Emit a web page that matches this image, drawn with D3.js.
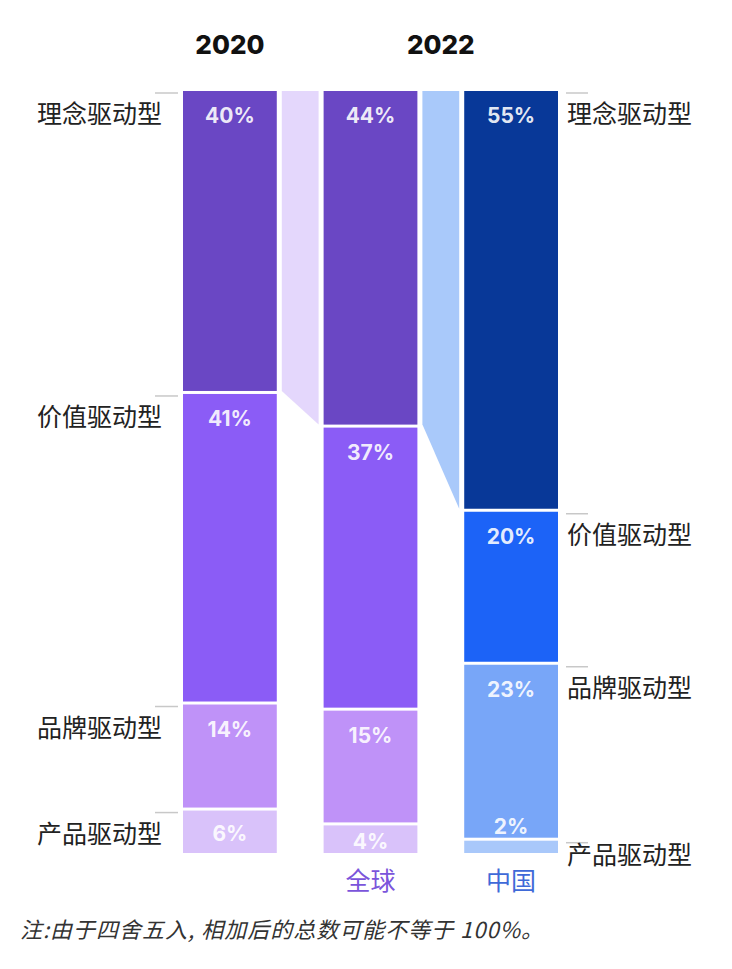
<!DOCTYPE html>
<html>
<head>
<meta charset="utf-8">
<script src="https://cdn.jsdelivr.net/npm/d3@7"></script>
<style>
  body { margin: 0; background: #fff; }
  svg text { font-family: "Noto Sans CJK SC", "Noto Sans", sans-serif; }
</style>
</head>
<body>
<div id="my_dataviz"></div>
<script>
// chart data
var categories = ["理念驱动型", "价值驱动型", "品牌驱动型", "产品驱动型"];
var columns = ["2020", "全球", "中国"];
var values2020 = [40, 41, 14, 6];
var valuesGlobal = [44, 37, 15, 4];
var valuesChina = [55, 20, 23, 2];
var yearLabels = ["2020", "2022"];
var regionLabels = ["全球", "中国"];
var note = "注:由于四舍五入, 相加后的总数可能不等于 100%。";

// colours
var purples = ["#6a47c4", "#8b5cf6", "#bf92f8", "#d9c2fa"];
var blues = ["#083898", "#1c63f7", "#78a6f8", "#a9c8fa"];
var linkColors = ["#e4d7fc", "#a9c9fa"];

var width = 732, height = 969;
var yTop = 91, yBottom = 856, gap = 3;

var svg = d3.select("#my_dataviz")
    .append("svg")
    .attr("width", width)
    .attr("height", height);

var x = d3.scaleBand()
    .domain(columns)
    .range([183, 558])
    .paddingInner(0.333)
    .paddingOuter(0);

// stack one column into segments
function stackColumn(name, values, colors) {
    var total = d3.sum(values);
    var y = d3.scaleLinear().domain([0, total]).range([yTop, yBottom]);
    var acc = 0;
    return values.map(function(v, i) {
        var s = {col: name, cat: categories[i], value: v, color: colors[i],
                 y0: y(acc), y1: y(acc + v)};
        acc += v;
        return s;
    });
}

var stacks = [
    stackColumn("2020", values2020, purples),
    stackColumn("全球", valuesGlobal, purples),
    stackColumn("中国", valuesChina, blues)
];

// connectors between the top segments
for (var i = 0; i < 2; i++) {
    var a = stacks[i][0], b = stacks[i + 1][0];
    var xl = x(a.col) + x.bandwidth() + 5;
    var xr = x(b.col) - 5;
    svg.append("polygon")
        .attr("points", [[xl, yTop], [xr, yTop], [xr, b.y1 - gap], [xl, a.y1 - gap]].join(" "))
        .attr("fill", linkColors[i]);
}

var segs = d3.merge(stacks);

svg.selectAll("rect.seg")
    .data(segs)
    .join("rect")
    .attr("class", "seg")
    .attr("x", d => x(d.col))
    .attr("y", d => d.y0)
    .attr("width", x.bandwidth())
    .attr("height", d => Math.max(1, d.y1 - d.y0 - gap))
    .attr("fill", d => d.color);

// percent labels
svg.selectAll("text.pct")
    .data(segs)
    .join("text")
    .attr("class", "pct")
    .attr("x", d => x(d.col) + x.bandwidth() / 2)
    .attr("y", function(d) {
        var h = d.y1 - d.y0;
        if (h < 25) return d.y0 - 7;
        return Math.min(d.y0 + 32, d.y0 + h / 2 + 8);
    })
    .attr("text-anchor", "middle")
    .style("font-family", "Inter, Roboto, sans-serif")
    .style("font-weight", 700)
    .style("font-size", "21px")
    .attr("fill", "#fff")
    .attr("fill-opacity", 0.9)
    .text(d => d.value + "%");

// side labels and ticks
function sideLabels(stack, side) {
    var xEdge = side === "left" ? x(stack[0].col) : x(stack[0].col) + x.bandwidth();
    stack.forEach(function(d) {
        var ty = d.y0 + 2;
        svg.append("line")
            .attr("x1", side === "left" ? xEdge - 28 : xEdge + 8)
            .attr("x2", side === "left" ? xEdge - 5 : xEdge + 30)
            .attr("y1", ty).attr("y2", ty)
            .attr("stroke", "#c8c8c8")
            .attr("stroke-width", 1.5);
        svg.append("text")
            .attr("x", side === "left" ? 162 : 567)
            .attr("y", Math.min(d.y0 + 32, yBottom + 8))
            .attr("text-anchor", side === "left" ? "end" : "start")
            .style("font-size", "25px")
            .attr("fill", "#222")
            .text(d.cat);
    });
}
sideLabels(stacks[0], "left");
sideLabels(stacks[2], "right");

// year headers
var yearX = [x("2020") + x.bandwidth() / 2, (x("全球") + x("中国") + x.bandwidth()) / 2];
yearLabels.forEach(function(t, i) {
    svg.append("text")
        .attr("x", yearX[i])
        .attr("y", 54)
        .attr("text-anchor", "middle")
        .style("font-family", "Inter, Roboto, sans-serif")
        .style("font-weight", 800)
        .style("font-size", "26px")
        .attr("fill", "#111")
        .text(t);
});

// region labels under the 2022 columns
var regionColors = ["#7b55db", "#3f6ad8"];
regionLabels.forEach(function(r, i) {
    svg.append("text")
        .attr("x", x(r) + x.bandwidth() / 2)
        .attr("y", 890)
        .attr("text-anchor", "middle")
        .style("font-size", "25px")
        .attr("fill", regionColors[i])
        .text(r);
});

// footnote
svg.append("text")
    .attr("x", 20)
    .attr("y", 938)
    .style("font-size", "22px")
    .style("font-style", "italic")
    .style("letter-spacing", "1px")
    .attr("fill", "#333")
    .text(note);
</script>
</body>
</html>
